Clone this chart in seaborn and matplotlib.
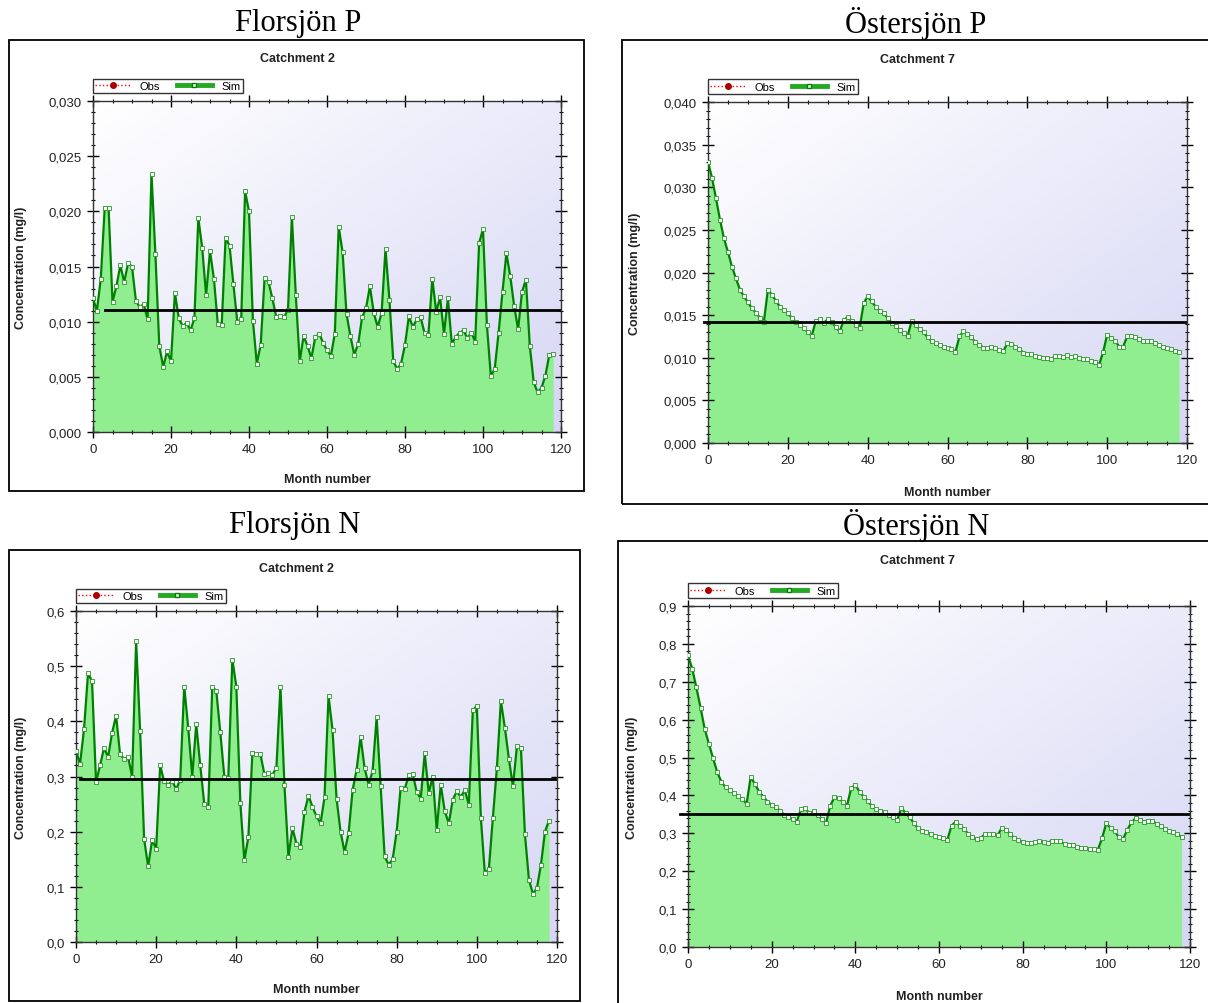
import matplotlib
matplotlib.use("Agg")
import matplotlib.pyplot as plt
from matplotlib.patches import Rectangle
from matplotlib.lines import Line2D
from matplotlib.ticker import MultipleLocator, FuncFormatter
import seaborn as sns
import numpy as np

plt.rcParams['font.family'] = ['Liberation Sans', 'DejaVu Sans']

# ---- data (month 0..118) ----
months = list(range(119))

florsjon_p = [0.0121, 0.0110, 0.0139, 0.0203, 0.0203, 0.0118, 0.0132, 0.0151, 0.0136, 0.0153,
              0.0150, 0.0119, 0.0113, 0.0116, 0.0102, 0.0234, 0.0161, 0.0078, 0.0059, 0.0073,
              0.0064, 0.0126, 0.0103, 0.0096, 0.0099, 0.0092, 0.0103, 0.0194, 0.0167, 0.0124,
              0.0164, 0.0139, 0.0098, 0.0097, 0.0176, 0.0169, 0.0134, 0.0100, 0.0102, 0.0218,
              0.0200, 0.0101, 0.0062, 0.0079, 0.0140, 0.0136, 0.0121, 0.0104, 0.0105, 0.0104,
              0.0111, 0.0195, 0.0124, 0.0064, 0.0087, 0.0078, 0.0067, 0.0086, 0.0089, 0.0081,
              0.0074, 0.0069, 0.0089, 0.0186, 0.0163, 0.0107, 0.0087, 0.0070, 0.0080, 0.0104,
              0.0112, 0.0132, 0.0108, 0.0095, 0.0108, 0.0166, 0.0120, 0.0064, 0.0057, 0.0062,
              0.0079, 0.0105, 0.0095, 0.0102, 0.0104, 0.0090, 0.0088, 0.0139, 0.0109, 0.0122,
              0.0089, 0.0121, 0.0080, 0.0086, 0.0090, 0.0092, 0.0085, 0.0090, 0.0082, 0.0171,
              0.0184, 0.0097, 0.0051, 0.0057, 0.0090, 0.0127, 0.0162, 0.0141, 0.0114, 0.0093,
              0.0127, 0.0138, 0.0078, 0.0045, 0.0036, 0.0040, 0.0051, 0.0070, 0.0071]

ostersjon_p = [0.0330, 0.0311, 0.0287, 0.0262, 0.0240, 0.0224, 0.0207, 0.0193, 0.0180, 0.0172,
               0.0165, 0.0158, 0.0153, 0.0147, 0.0142, 0.0180, 0.0174, 0.0167, 0.0160, 0.0156,
               0.0152, 0.0147, 0.0142, 0.0139, 0.0135, 0.0130, 0.0126, 0.0143, 0.0145, 0.0141,
               0.0145, 0.0142, 0.0136, 0.0131, 0.0144, 0.0148, 0.0143, 0.0139, 0.0135, 0.0164,
               0.0172, 0.0166, 0.0160, 0.0155, 0.0152, 0.0147, 0.0141, 0.0137, 0.0133, 0.0129,
               0.0125, 0.0143, 0.0138, 0.0134, 0.0130, 0.0124, 0.0120, 0.0117, 0.0115, 0.0113,
               0.0111, 0.0110, 0.0107, 0.0125, 0.0131, 0.0128, 0.0124, 0.0118, 0.0115, 0.0112,
               0.0111, 0.0113, 0.0111, 0.0109, 0.0108, 0.0117, 0.0116, 0.0113, 0.0110, 0.0106,
               0.0104, 0.0104, 0.0102, 0.0101, 0.0100, 0.0100, 0.0098, 0.0102, 0.0102, 0.0101,
               0.0103, 0.0101, 0.0102, 0.0100, 0.0099, 0.0098, 0.0096, 0.0095, 0.0092, 0.0107,
               0.0127, 0.0123, 0.0120, 0.0113, 0.0113, 0.0125, 0.0126, 0.0124, 0.0122, 0.0120,
               0.0120, 0.0120, 0.0117, 0.0115, 0.0113, 0.0112, 0.0110, 0.0108, 0.0107]

florsjon_n = [0.347, 0.322, 0.386, 0.487, 0.473, 0.290, 0.320, 0.352, 0.335, 0.379,
              0.410, 0.340, 0.332, 0.335, 0.300, 0.545, 0.382, 0.186, 0.137, 0.185,
              0.169, 0.320, 0.291, 0.285, 0.292, 0.277, 0.294, 0.463, 0.388, 0.300,
              0.395, 0.320, 0.250, 0.245, 0.463, 0.455, 0.380, 0.300, 0.297, 0.512,
              0.463, 0.252, 0.148, 0.190, 0.342, 0.340, 0.341, 0.304, 0.307, 0.303,
              0.316, 0.463, 0.285, 0.154, 0.206, 0.178, 0.172, 0.236, 0.265, 0.245,
              0.228, 0.215, 0.262, 0.446, 0.384, 0.260, 0.200, 0.163, 0.197, 0.275,
              0.312, 0.372, 0.315, 0.285, 0.310, 0.407, 0.283, 0.155, 0.140, 0.150,
              0.200, 0.280, 0.277, 0.302, 0.305, 0.272, 0.260, 0.342, 0.270, 0.300,
              0.203, 0.285, 0.237, 0.215, 0.258, 0.273, 0.263, 0.275, 0.249, 0.420,
              0.428, 0.225, 0.125, 0.132, 0.225, 0.315, 0.437, 0.388, 0.332, 0.282,
              0.355, 0.352, 0.195, 0.113, 0.087, 0.098, 0.140, 0.200, 0.220]

ostersjon_n = [0.770, 0.735, 0.685, 0.632, 0.575, 0.536, 0.498, 0.461, 0.436, 0.421,
               0.414, 0.406, 0.398, 0.391, 0.378, 0.449, 0.430, 0.410, 0.397, 0.384,
               0.375, 0.369, 0.360, 0.349, 0.344, 0.338, 0.331, 0.364, 0.367, 0.353,
               0.358, 0.349, 0.338, 0.327, 0.373, 0.395, 0.392, 0.384, 0.373, 0.419,
               0.428, 0.410, 0.397, 0.386, 0.371, 0.363, 0.360, 0.355, 0.348, 0.342,
               0.335, 0.367, 0.354, 0.342, 0.327, 0.313, 0.307, 0.303, 0.297, 0.294,
               0.291, 0.287, 0.283, 0.320, 0.331, 0.320, 0.312, 0.298, 0.290, 0.284,
               0.288, 0.298, 0.298, 0.297, 0.295, 0.314, 0.310, 0.298, 0.288, 0.283,
               0.277, 0.275, 0.275, 0.276, 0.279, 0.277, 0.275, 0.281, 0.280, 0.279,
               0.272, 0.270, 0.268, 0.263, 0.261, 0.260, 0.259, 0.258, 0.257, 0.288,
               0.327, 0.314, 0.305, 0.290, 0.285, 0.309, 0.329, 0.340, 0.335, 0.331,
               0.333, 0.333, 0.325, 0.319, 0.312, 0.307, 0.303, 0.297, 0.291]

panel_titles = ["Florsjön P", "Östersjön P", "Florsjön N", "Östersjön N"]
catchments = ["Catchment 2", "Catchment 7", "Catchment 2", "Catchment 7"]
series = [florsjon_p, ostersjon_p, florsjon_n, ostersjon_n]
mean_levels = [0.0111, 0.0142, 0.296, 0.352]
mean_start = [3, -1, 1, -2]
y_max = [0.030, 0.040, 0.6, 0.9]
y_step = [0.005, 0.005, 0.1, 0.1]
y_dec = [3, 3, 1, 1]
legend_labels = ["Obs", "Sim"]

# ---- layout in pixels ----
W, H = 1208, 1004
layout = [
    dict(box=(9, 41, 584, 492), ax=(93, 102, 561, 433), title=(298, 23), sub=(297, 59)),
    dict(box=(622, 41, 1215, 505), ax=(708, 103, 1187, 444), title=(916, 23), sub=(917, 60)),
    dict(box=(9, 551, 580, 1002), ax=(76, 612, 557, 943), title=(295, 525), sub=(296, 569)),
    dict(box=(618, 542, 1215, 1010), ax=(688, 607, 1190, 948), title=(916, 525), sub=(917, 561)),
]

fig = plt.figure(figsize=(W / 100, H / 100), dpi=100)
fig.patch.set_facecolor('white')

# background gradient for plot areas
g = np.linspace(0, 1, 200)
xx, yy = np.meshgrid(g, g)
t = ((xx + yy) / 2)[..., None]
c0 = np.array([1.0, 1.0, 1.0])
c1 = np.array([0.84, 0.84, 0.96])
grad = c0 * (1 - t) + c1 * t

green_dark = '#008000'
green_mark = '#1f9a1f'
green_fill = '#90EE90'


def fmt(dec):
    return FuncFormatter(lambda v, p: f"{v:.{dec}f}".replace('.', ','))


for i in range(4):
    L = layout[i]
    bl, bt, br, bb = L['box']
    fig.add_artist(Rectangle((bl / W, 1 - bb / H), (br - bl) / W, (bb - bt) / H,
                             transform=fig.transFigure, fill=False, ec='black', lw=1.3))
    fig.text(L['title'][0] / W, 1 - L['title'][1] / H, panel_titles[i], ha='center', va='center',
             fontsize=22, family='Liberation Serif')
    fig.text(L['sub'][0] / W, 1 - L['sub'][1] / H, catchments[i], ha='center', va='center',
             fontsize=9, fontweight='bold', color='#222222')

    l, tp, r, b = L['ax']
    ax = fig.add_axes([l / W, 1 - b / H, (r - l) / W, (b - tp) / H])
    ymax = y_max[i]
    ax.imshow(grad, extent=(0, 120, 0, ymax), aspect='auto', origin='upper', zorder=0)

    vals = series[i]
    ax.fill_between(months, vals, 0, color=green_fill, lw=0, zorder=1)
    sns.lineplot(x=months, y=vals, ax=ax, color=green_dark, lw=1.6, marker='s', zorder=3)
    sim_line = ax.lines[-1]
    sim_line.set_markersize(2.4)
    sim_line.set_markerfacecolor('white')
    sim_line.set_markeredgecolor(green_mark)
    sim_line.set_markeredgewidth(0.6)
    ax.plot([mean_start[i], 119.5], [mean_levels[i]] * 2, color='black', lw=2, zorder=4, clip_on=False)

    ax.set_xlim(0, 120)
    ax.set_ylim(0, ymax)
    ax.xaxis.set_major_locator(MultipleLocator(20))
    ax.xaxis.set_minor_locator(MultipleLocator(5))
    ax.yaxis.set_major_locator(MultipleLocator(y_step[i]))
    ax.yaxis.set_minor_locator(MultipleLocator(y_step[i] / 5))
    ax.yaxis.set_major_formatter(fmt(y_dec[i]))
    ax.tick_params(which='major', direction='inout', length=8, width=1, top=True, right=True,
                   labelsize=9.5, labelcolor='#222222', pad=4)
    ax.tick_params(which='minor', direction='inout', length=3.5, width=0.8, top=True, right=True)
    for sp in ax.spines.values():
        sp.set_linewidth(1)
        sp.set_color('#333333')

    ax.set_xlabel("Month number", fontsize=9, fontweight='bold', color='#222222')
    ax.set_ylabel("Concentration (mg/l)", fontsize=9, fontweight='bold', color='#222222')
    ax.xaxis.set_label_coords(0.5, -0.125)
    ylab_x = [-0.141, -0.14, -0.102, -0.10][i]
    ax.yaxis.set_label_coords(ylab_x, 0.5)

    obs = Line2D([], [], color='red', ls=':', lw=1, marker='o', markersize=4,
                 markerfacecolor='#aa0000', markeredgecolor='#aa0000')
    sim = Line2D([], [], color='#22aa22', lw=3.5, marker='s', markersize=3,
                 markerfacecolor='white', markeredgecolor=green_dark)
    leg = ax.legend(handles=[obs, sim], labels=legend_labels, loc='lower left',
                    bbox_to_anchor=(0, 1.024), ncol=2, frameon=True, fancybox=False,
                    edgecolor='black', fontsize=8, handlelength=3.2, borderpad=0.2,
                    columnspacing=1.5, handletextpad=0.8, borderaxespad=0)
    leg.get_frame().set_linewidth(1)

fig.savefig('out.png', dpi=100)
